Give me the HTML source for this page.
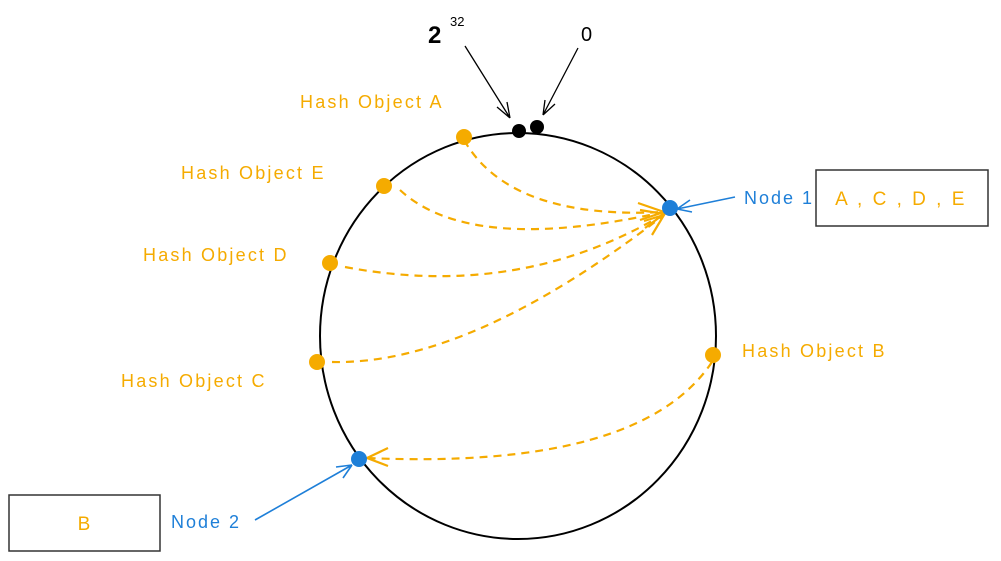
<!DOCTYPE html>
<html><head><meta charset="utf-8"><style>
html,body{margin:0;padding:0;background:#fff;}
svg{display:block;}
text{font-family:"Liberation Sans",sans-serif;}
</style></head><body>
<svg width="1001" height="561" viewBox="0 0 1001 561">
<rect x="0" y="0" width="1001" height="561" fill="#fff"/>
<ellipse cx="518" cy="336" rx="198" ry="203" fill="none" stroke="#000" stroke-width="2"/>

<text x="428" y="43" font-size="24" font-weight="bold" fill="#000">2</text>
<text x="450" y="26" font-size="13" fill="#000">32</text>
<text x="581" y="41" font-size="20" fill="#000">0</text>
<g stroke="#000" stroke-width="1.3" fill="none">
<path d="M465 46 L510 118 M510 118 L497 107 M510 118 L507 102"/>
<path d="M578 48 L543 115 M543 115 L545 100 M543 115 L555 104"/>
</g>
<circle cx="519" cy="131" r="7" fill="#000"/>
<circle cx="537" cy="127" r="7" fill="#000"/>

<g stroke="#f5ab00" stroke-width="2.2" fill="none" stroke-dasharray="8 6">
<path d="M464 140 Q510 220 664 212"/>
<path d="M400 190 Q470 255 664 212"/>
<path d="M345 267 Q520 300 664 214"/>
<path d="M332 362 Q470 365 664 215"/>
<path d="M712 362 Q640 470 367 458"/>
</g>
<g stroke="#f5ab00" stroke-width="2.2" fill="none">
<path d="M638 203 L664 212 L640 220"/>
<path d="M640 210 L664 214 L645 228"/>
<path d="M644 221 L664 215 L652 235"/>
<path d="M388 448 L367 458 L388 466"/>
</g>

<g fill="#f5ab00">
<circle cx="464" cy="137" r="8"/><circle cx="384" cy="186" r="8"/><circle cx="330" cy="263" r="8"/><circle cx="317" cy="362" r="8"/><circle cx="713" cy="355" r="8"/>
</g>
<g fill="#f5ab00" font-size="18" letter-spacing="2.2">
<text x="300" y="108">Hash Object A</text>
<text x="181" y="179">Hash Object E</text>
<text x="143" y="261">Hash Object D</text>
<text x="121" y="387">Hash Object C</text>
<text x="742" y="357">Hash Object B</text>
</g>

<circle cx="670" cy="208" r="8" fill="#1e7fd8"/>
<circle cx="359" cy="459" r="8" fill="#1e7fd8"/>
<g stroke="#1e7fd8" stroke-width="1.6" fill="none">
<path d="M735 197 L677 209 M677 209 L690 200 M677 209 L692 212"/>
<path d="M255 520 L352 465 M352 465 L336 467 M352 465 L343 478"/>
</g>
<text x="744" y="204" font-size="18" letter-spacing="2" fill="#1e7fd8">Node 1</text>
<text x="171" y="528" font-size="18" letter-spacing="2" fill="#1e7fd8">Node 2</text>

<rect x="816" y="170" width="172" height="56" fill="none" stroke="#333" stroke-width="1.5"/>
<text x="901" y="205" font-size="19" letter-spacing="2.5" fill="#f5ab00" text-anchor="middle">A , C , D , E</text>
<rect x="9" y="495" width="151" height="56" fill="none" stroke="#333" stroke-width="1.5"/>
<text x="84" y="530" font-size="19" fill="#f5ab00" text-anchor="middle">B</text>
</svg>
</body></html>
